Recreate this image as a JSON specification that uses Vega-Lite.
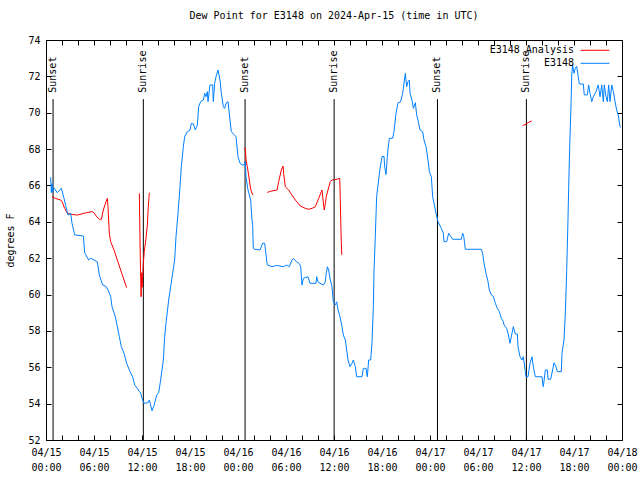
{
"$schema": "https://vega.github.io/schema/vega-lite/v6.json",
"width": 576, "height": 400,
"autosize": {"type": "none"},
"padding": {"left": 46, "top": 40, "right": 18, "bottom": 40},
"background": "white",
"title": {"text": "Dew Point for E3148 on 2024-Apr-15 (time in UTC)", "font": "DejaVu Sans Mono", "fontSize": 10, "fontWeight": "normal", "color": "black", "offset": 14, "anchor": "middle", "frame": "group"},
"config": {"view": {"stroke": "black", "strokeWidth": 1}, "font": "DejaVu Sans Mono"},
"datasets": {
"obs": [
{"h":0.583,"v":66.45},{"h":0.667,"v":65.6},{"h":0.75,"v":66.1},{"h":0.833,"v":65.66},{"h":1.0,"v":65.86},{"h":1.417,"v":65.6},{"h":1.917,"v":65.84},{"h":2.25,"v":65.29},{"h":2.5,"v":64.83},{"h":2.75,"v":64.37},{"h":3.083,"v":64.47},{"h":3.25,"v":63.92},{"h":3.583,"v":63.28},{"h":4.667,"v":63.22},{"h":4.833,"v":62.3},{"h":5.333,"v":61.9},{"h":5.583,"v":62.0},{"h":6.0,"v":61.9},{"h":6.417,"v":61.8},{"h":6.667,"v":61.07},{"h":7.083,"v":60.52},{"h":7.5,"v":60.45},{"h":7.75,"v":60.25},{"h":8.083,"v":59.9},{"h":8.25,"v":59.33},{"h":8.667,"v":58.78},{"h":8.917,"v":58.23},{"h":9.167,"v":57.68},{"h":9.417,"v":57.13},{"h":9.75,"v":56.77},{"h":10.083,"v":56.22},{"h":10.5,"v":55.76},{"h":10.833,"v":55.48},{"h":11.083,"v":55.03},{"h":11.417,"v":54.84},{"h":11.667,"v":54.66},{"h":11.833,"v":54.6},{"h":12.0,"v":54.29},{"h":12.25,"v":54.02},{"h":12.75,"v":54.05},{"h":12.917,"v":54.2},{"h":13.25,"v":53.61},{"h":13.5,"v":53.9},{"h":13.833,"v":54.47},{"h":14.083,"v":54.6},{"h":14.333,"v":55.3},{"h":14.667,"v":56.4},{"h":14.833,"v":57.68},{"h":15.0,"v":58.42},{"h":15.333,"v":59.7},{"h":15.583,"v":60.43},{"h":15.833,"v":61.17},{"h":16.083,"v":61.9},{"h":16.25,"v":63.18},{"h":16.5,"v":64.47},{"h":16.75,"v":65.93},{"h":16.917,"v":67.03},{"h":17.167,"v":68.13},{"h":17.333,"v":68.68},{"h":17.667,"v":68.96},{"h":18.0,"v":69.05},{"h":18.167,"v":69.42},{"h":18.417,"v":69.38},{"h":18.667,"v":69.05},{"h":18.917,"v":69.32},{"h":19.083,"v":70.33},{"h":19.333,"v":70.61},{"h":19.667,"v":70.7},{"h":19.833,"v":71.07},{"h":20.0,"v":70.88},{"h":20.167,"v":71.16},{"h":20.25,"v":70.61},{"h":20.5,"v":71.53},{"h":20.833,"v":71.53},{"h":20.917,"v":70.61},{"h":21.083,"v":71.62},{"h":21.25,"v":71.98},{"h":21.5,"v":72.35},{"h":21.75,"v":71.8},{"h":21.917,"v":71.07},{"h":22.167,"v":70.33},{"h":22.333,"v":70.24},{"h":22.5,"v":70.52},{"h":22.75,"v":70.61},{"h":23.0,"v":69.6},{"h":23.167,"v":68.96},{"h":23.5,"v":68.8},{"h":23.75,"v":68.68},
{"h":24.0,"v":67.58},{"h":24.25,"v":67.22},{"h":24.5,"v":67.13},{"h":24.75,"v":67.13},{"h":24.917,"v":67.31},{"h":25.0,"v":66.48},{"h":25.25,"v":65.75},{"h":25.583,"v":65.2},{"h":25.75,"v":64.1},{"h":25.833,"v":63.8},{"h":25.917,"v":62.54},{"h":26.0,"v":62.5},{"h":26.75,"v":62.45},{"h":27.083,"v":62.82},{"h":27.333,"v":62.82},{"h":27.583,"v":61.9},{"h":27.667,"v":61.63},{"h":28.25,"v":61.53},{"h":28.833,"v":61.6},{"h":29.667,"v":61.53},{"h":30.083,"v":61.62},{"h":30.417,"v":61.53},{"h":30.75,"v":61.9},{"h":30.917,"v":61.99},{"h":31.333,"v":61.8},{"h":31.667,"v":61.7},{"h":31.833,"v":61.53},{"h":32.0,"v":60.52},{"h":32.167,"v":60.89},{"h":32.75,"v":60.98},{"h":33.0,"v":60.62},{"h":33.75,"v":60.62},{"h":33.833,"v":60.98},{"h":34.0,"v":60.7},{"h":34.25,"v":60.62},{"h":34.667,"v":60.52},{"h":34.917,"v":60.7},{"h":35.0,"v":61.07},{"h":35.167,"v":61.53},{"h":35.333,"v":61.35},{"h":35.5,"v":60.89},{"h":35.75,"v":60.43},{"h":35.917,"v":59.6},{"h":36.167,"v":59.42},{"h":36.333,"v":59.6},{"h":36.5,"v":59.15},{"h":36.75,"v":58.78},{"h":37.0,"v":58.23},{"h":37.167,"v":57.77},{"h":37.417,"v":57.5},{"h":37.583,"v":56.95},{"h":37.75,"v":56.4},{"h":38.0,"v":56.03},{"h":38.25,"v":56.22},{"h":38.417,"v":56.4},{"h":38.667,"v":56.03},{"h":38.833,"v":55.48},{"h":39.5,"v":55.48},{"h":39.667,"v":55.94},{"h":40.0,"v":55.94},{"h":40.167,"v":55.48},{"h":40.333,"v":56.4},{"h":40.583,"v":56.4},{"h":40.75,"v":57.32},{"h":40.917,"v":59.33},{"h":41.0,"v":61.25},{"h":41.167,"v":63.28},{"h":41.333,"v":65.4},{"h":41.583,"v":66.3},{"h":41.75,"v":66.94},{"h":42.0,"v":67.58},{"h":42.25,"v":67.6},{"h":42.333,"v":67.03},{"h":42.5,"v":66.6},{"h":42.667,"v":67.6},{"h":42.833,"v":68.32},{"h":42.917,"v":68.59},{"h":43.333,"v":68.6},{"h":43.5,"v":68.96},{"h":43.75,"v":69.97},{"h":44.0,"v":70.55},{"h":44.333,"v":70.6},{"h":44.583,"v":71.07},{"h":44.75,"v":71.62},{"h":44.917,"v":72.17},{"h":45.083,"v":71.43},{"h":45.25,"v":71.71},{"h":45.417,"v":71.8},{"h":45.5,"v":71.07},{"h":45.75,"v":70.7},{"h":45.917,"v":70.24},{"h":46.167,"v":70.55},{"h":46.333,"v":69.88},{"h":46.5,"v":69.6},{"h":46.75,"v":69.05},{"h":47.083,"v":68.96},{"h":47.25,"v":68.5},{"h":47.5,"v":68.13},{"h":47.75,"v":67.4},{"h":47.917,"v":66.76},
{"h":48.167,"v":66.48},{"h":48.333,"v":65.38},{"h":48.5,"v":65.02},{"h":48.75,"v":64.47},{"h":49.0,"v":64.01},{"h":49.417,"v":63.64},{"h":49.667,"v":63.37},{"h":49.75,"v":62.91},{"h":50.083,"v":62.91},{"h":50.333,"v":63.37},{"h":50.583,"v":63.2},{"h":50.833,"v":63.04},{"h":51.917,"v":63.04},{"h":52.083,"v":63.37},{"h":52.217,"v":63.2},{"h":52.417,"v":62.49},{"h":54.417,"v":62.49},{"h":54.583,"v":62.27},{"h":54.75,"v":61.72},{"h":55.0,"v":61.17},{"h":55.25,"v":60.71},{"h":55.417,"v":60.25},{"h":55.667,"v":59.98},{"h":55.917,"v":59.9},{"h":56.167,"v":59.52},{"h":56.417,"v":59.24},{"h":56.667,"v":59.06},{"h":56.917,"v":58.69},{"h":57.167,"v":58.51},{"h":57.25,"v":58.33},{"h":57.583,"v":58.14},{"h":57.75,"v":57.87},{"h":58.0,"v":57.32},{"h":58.25,"v":57.87},{"h":58.417,"v":58.23},{"h":58.667,"v":57.83},{"h":58.917,"v":57.83},{"h":59.0,"v":57.13},{"h":59.25,"v":56.58},{"h":59.5,"v":56.4},{"h":59.667,"v":56.58},{"h":59.75,"v":56.31},{"h":59.917,"v":55.76},{"h":60.0,"v":55.48},{"h":60.25,"v":55.48},{"h":60.5,"v":56.22},{"h":60.75,"v":56.58},{"h":60.917,"v":56.03},{"h":61.167,"v":55.48},{"h":62.0,"v":55.48},{"h":62.083,"v":55.12},{"h":62.167,"v":54.93},{"h":62.417,"v":55.85},{"h":62.667,"v":55.85},{"h":62.75,"v":55.34},{"h":63.083,"v":55.34},{"h":63.333,"v":55.85},{"h":63.5,"v":56.25},{"h":63.75,"v":56.03},{"h":63.917,"v":55.76},{"h":64.417,"v":55.76},{"h":64.5,"v":56.77},{"h":64.75,"v":57.5},{"h":64.917,"v":58.97},{"h":65.083,"v":61.25},{"h":65.217,"v":63.55},{"h":65.333,"v":65.84},{"h":65.467,"v":68.23},{"h":65.633,"v":70.52},{"h":65.717,"v":72.08},{"h":65.833,"v":72.63},{"h":66.0,"v":72.17},{"h":66.167,"v":72.45},{"h":66.333,"v":72.55},{"h":66.467,"v":72.17},{"h":66.667,"v":71.58},{"h":67.167,"v":71.58},{"h":67.283,"v":70.98},{"h":67.667,"v":70.98},{"h":67.833,"v":71.53},{"h":68.0,"v":71.07},{"h":68.217,"v":70.61},{"h":68.417,"v":70.88},{"h":68.75,"v":71.16},{"h":69.033,"v":71.53},{"h":69.25,"v":70.88},{"h":69.467,"v":71.53},{"h":69.667,"v":70.61},{"h":69.783,"v":71.53},{"h":70.0,"v":70.88},{"h":70.167,"v":70.61},{"h":70.333,"v":71.53},{"h":70.5,"v":70.61},{"h":70.717,"v":71.53},{"h":70.917,"v":71.16},{"h":71.133,"v":70.61},{"h":71.333,"v":70.15},{"h":71.533,"v":69.88},{"h":71.75,"v":69.23},{"h":71.867,"v":69.2}
],
"ana": [
{"g":1,"h":0.75,"v":65.38},{"g":1,"h":1.167,"v":65.29},{"g":1,"h":1.833,"v":65.2},{"g":1,"h":2.0,"v":65.11},{"g":1,"h":2.333,"v":64.74},{"g":1,"h":2.667,"v":64.47},{"g":1,"h":3.25,"v":64.41},{"g":1,"h":3.917,"v":64.37},{"g":1,"h":4.75,"v":64.47},{"g":1,"h":5.75,"v":64.56},{"g":1,"h":6.0,"v":64.5},{"g":1,"h":6.333,"v":64.28},{"g":1,"h":6.667,"v":64.14},{"g":1,"h":6.917,"v":64.14},{"g":1,"h":7.167,"v":64.65},{"g":1,"h":7.5,"v":65.11},{"g":1,"h":7.667,"v":65.29},{"g":1,"h":7.75,"v":64.8},{"g":1,"h":7.917,"v":63.37},{"g":1,"h":8.083,"v":62.91},{"g":1,"h":8.5,"v":62.45},{"g":1,"h":8.917,"v":61.9},{"g":1,"h":9.333,"v":61.35},{"g":1,"h":9.75,"v":60.8},{"g":1,"h":10.083,"v":60.38},
{"g":2,"h":11.667,"v":65.57},{"g":2,"h":11.75,"v":63.0},{"g":2,"h":11.817,"v":61.25},{"g":2,"h":11.883,"v":59.88},{"g":2,"h":11.967,"v":61.2},{"g":2,"h":12.017,"v":60.4},{"g":2,"h":12.083,"v":61.0},{"g":2,"h":12.167,"v":61.72},{"g":2,"h":12.283,"v":62.36},{"g":2,"h":12.5,"v":63.09},{"g":2,"h":12.667,"v":63.82},{"g":2,"h":12.783,"v":64.8},{"g":2,"h":12.917,"v":65.6},
{"g":3,"h":24.75,"v":68.04},{"g":3,"h":24.917,"v":68.04},{"g":3,"h":25.0,"v":67.4},{"g":3,"h":25.167,"v":67.03},{"g":3,"h":25.333,"v":66.57},{"g":3,"h":25.5,"v":66.02},{"g":3,"h":25.667,"v":65.66},{"g":3,"h":25.883,"v":65.47},
{"g":4,"h":27.667,"v":65.62},{"g":4,"h":28.25,"v":65.7},{"g":4,"h":28.883,"v":65.75},{"g":4,"h":29.083,"v":66.21},{"g":4,"h":29.417,"v":66.85},{"g":4,"h":29.633,"v":67.07},{"g":4,"h":29.717,"v":66.6},{"g":4,"h":29.917,"v":65.93},{"g":4,"h":30.333,"v":65.75},{"g":4,"h":30.75,"v":65.47},{"g":4,"h":31.167,"v":65.2},{"g":4,"h":31.783,"v":64.87},{"g":4,"h":32.417,"v":64.74},{"g":4,"h":32.833,"v":64.69},{"g":4,"h":33.25,"v":64.74},{"g":4,"h":33.667,"v":64.83},{"g":4,"h":34.083,"v":65.29},{"g":4,"h":34.5,"v":65.75},{"g":4,"h":34.633,"v":65.2},{"g":4,"h":34.783,"v":64.65},{"g":4,"h":34.917,"v":65.0},{"g":4,"h":35.033,"v":65.38},{"g":4,"h":35.25,"v":65.75},{"g":4,"h":35.533,"v":66.21},{"g":4,"h":35.75,"v":66.3},{"g":4,"h":36.25,"v":66.33},{"g":4,"h":36.717,"v":66.39},{"g":4,"h":36.783,"v":65.29},{"g":4,"h":36.883,"v":63.28},{"g":4,"h":36.967,"v":62.18},
{"g":5,"h":59.583,"v":69.29},{"g":5,"h":60.0,"v":69.38},{"g":5,"h":60.283,"v":69.46},{"g":5,"h":60.717,"v":69.55}
],
"sun": [
{"h":0.883,"label":"Sunset"},{"h":12.167,"label":"Sunrise"},{"h":24.883,"label":"Sunset"},{"h":36.017,"label":"Sunrise"},{"h":48.933,"label":"Sunset"},{"h":60.05,"label":"Sunrise"}
]
},
"layer": [
{
"data": {"name": "sun"},
"mark": {"type": "rule", "color": "black", "strokeWidth": 1},
"encoding": {
"x": {"field": "h", "type": "quantitative", "scale": {"domain": [0, 72], "nice": false, "zero": false},
 "axis": {"orient": "top", "title": null, "labels": false, "domain": false, "grid": false, "tickColor": "black", "values": [0,2,4,6,8,10,12,14,16,18,20,22,24,26,28,30,32,34,36,38,40,42,44,46,48,50,52,54,56,58,60,62,64,66,68,70,72], "tickSize": -5,
  "encoding": {"ticks": {"update": {"y2": {"signal": "datum.value % 6 === 0 ? 5 : 3"}}}}}},
"y": {"datum": 52, "type": "quantitative", "scale": {"domain": [52, 74], "nice": false, "zero": false},
 "axis": {"orient": "right", "title": null, "labels": false, "domain": false, "grid": false, "tickColor": "black", "values": [52,54,56,58,60,62,64,66,68,70,72,74], "tickSize": -5}},
"y2": {"datum": 70.75}
}
},
{
"data": {"name": "sun"},
"mark": {"type": "text", "angle": 270, "align": "left", "baseline": "middle", "font": "DejaVu Sans Mono", "fontSize": 10, "color": "black"},
"encoding": {
"x": {"field": "h", "type": "quantitative", "axis": null},
"y": {"datum": 71.1, "type": "quantitative", "axis": null},
"text": {"field": "label"}
}
},
{
"data": {"name": "ana"},
"mark": {"type": "line", "strokeWidth": 1},
"encoding": {
"x": {"field": "h", "type": "quantitative", "axis": null},
"y": {"field": "v", "type": "quantitative", "axis": null},
"detail": {"field": "g"},
"color": {"datum": "E3148 Analysis", "type": "nominal"}
}
},
{
"data": {"name": "obs"},
"mark": {"type": "line", "strokeWidth": 1},
"encoding": {
"x": {"field": "h", "type": "quantitative",
 "axis": {"orient": "bottom", "title": null, "domain": false, "grid": false, "tickColor": "black", "values": [0,2,4,6,8,10,12,14,16,18,20,22,24,26,28,30,32,34,36,38,40,42,44,46,48,50,52,54,56,58,60,62,64,66,68,70,72], "tickSize": -5,
  "encoding": {"ticks": {"update": {"y2": {"signal": "datum.value % 6 === 0 ? -5 : -3"}}}},
  "labelExpr": "datum.value % 6 === 0 ? ['04/' + (15 + floor(datum.value / 24)), (datum.value % 24 < 10 ? '0' : '') + (datum.value % 24) + ':00'] : ''",
  "labelPadding": 12, "labelFont": "DejaVu Sans Mono", "labelFontSize": 10, "labelColor": "black", "labelLineHeight": 15, "labelOverlap": false, "labelBaseline": "top", "labelFlush": false}},
"y": {"field": "v", "type": "quantitative",
 "axis": {"orient": "left", "title": "degrees F", "titleFont": "DejaVu Sans Mono", "titleFontSize": 10, "titleFontWeight": "normal", "titleColor": "black", "titlePadding": 12,
  "domain": false, "grid": false, "tickColor": "black", "values": [52,54,56,58,60,62,64,66,68,70,72,74], "tickSize": -5, "labelPadding": 11, "labelOverlap": false,
  "labelFont": "DejaVu Sans Mono", "labelFontSize": 10, "labelColor": "black"}},
"color": {"datum": "E3148", "type": "nominal",
 "scale": {"domain": ["E3148 Analysis", "E3148"], "range": ["#ff0000", "#0080ff"]},
 "legend": {"orient": "none", "legendX": 544, "legendY": 5.3, "title": null, "padding": 0, "symbolType": "M-4.8,0L4.8,0", "symbolSize": 36, "symbolStrokeWidth": 1,
  "labelAlign": "right", "labelOffset": -26, "labelFont": "DejaVu Sans Mono", "labelFontSize": 10, "labelColor": "black", "rowPadding": 3}}
}
}
],
"resolve": {"axis": {"x": "independent", "y": "independent"}}
}
